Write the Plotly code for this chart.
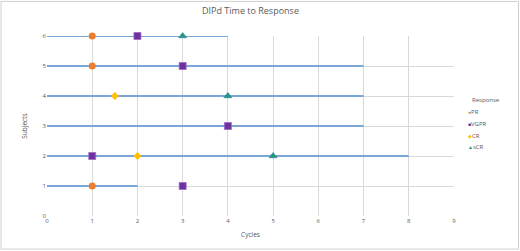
import plotly.graph_objects as go

subjects = [1, 2, 3, 4, 5, 6]
line_end = [2, 8, 7, 7, 7, 4]

pr_x = [1, 1, 1]
pr_y = [6, 5, 1]
vgpr_x = [2, 3, 4, 1, 3]
vgpr_y = [6, 5, 3, 2, 1]
cr_x = [1.5, 2]
cr_y = [4, 2]
scr_x = [3, 4, 5]
scr_y = [6, 4, 2]

x_ticks = list(range(0, 10))
y_ticks = list(range(0, 7))

series_names = ["PR", "VGPR", "CR", "sCR"]
series_colors = ["#ED7D31", "#7030A0", "#FFC000", "#1E9C72"]
series_glyphs = ["●", "■", "◆", "▲"]

L, R, T, B = 47, 454, 35.7, 216.3
W, H = 520, 251

fig = go.Figure()
for s, e in zip(subjects, line_end):
    fig.add_trace(go.Scatter(x=[0, e], y=[s, s], mode="lines",
                             line=dict(color="#7BA7D8", width=2.2),
                             showlegend=False, hoverinfo="skip"))

fig.add_trace(go.Scatter(x=pr_x, y=pr_y, mode="markers", name="PR", showlegend=False,
                         cliponaxis=False,
                         marker=dict(symbol="circle", size=7, color=series_colors[0])))
fig.add_trace(go.Scatter(x=vgpr_x, y=vgpr_y, mode="markers", name="VGPR", showlegend=False,
                         cliponaxis=False,
                         marker=dict(symbol="square", size=7, color=series_colors[1],
                                     line=dict(color="#9B6BC4", width=0.8))))
fig.add_trace(go.Scatter(x=cr_x, y=cr_y, mode="markers", name="CR", showlegend=False,
                         cliponaxis=False,
                         marker=dict(symbol="diamond", size=6, color=series_colors[2])))
fig.add_trace(go.Scatter(x=scr_x, y=scr_y, mode="markers", name="sCR", showlegend=False,
                         cliponaxis=False,
                         marker=dict(symbol="triangle-up", size=7, color=series_colors[3],
                                     line=dict(color="#2E75B6", width=0.6))))

def px2x(p):
    return (p - L) / (R - L)

def py2y(p):
    return (B - p) / (B - T)

fig.add_shape(type="rect", xref="paper", yref="paper",
              x0=px2x(1), x1=px2x(518.5), y0=py2y(249.5), y1=py2y(1),
              line=dict(color="#D0D0D0", width=1), fillcolor="rgba(0,0,0,0)", layer="below")

# manual legend
fig.add_annotation(text="Response", xref="paper", yref="paper",
                   x=px2x(470), y=py2y(100), xanchor="left", yanchor="middle",
                   showarrow=False, font=dict(size=6, color="#595959"))
for i, (n, c, g) in enumerate(zip(series_names, series_colors, series_glyphs)):
    fig.add_annotation(
        text=f"<span style='color:{c};font-size:5px'>{g}</span>{n}",
        xref="paper", yref="paper",
        x=px2x(466), y=py2y(112 + 11.8 * i), xanchor="left", yanchor="middle",
        showarrow=False, font=dict(size=6, color="#595959"))

fig.update_layout(
    width=W, height=H,
    margin=dict(l=L, r=W - R, t=T, b=H - B, pad=0, autoexpand=False),
    paper_bgcolor="white", plot_bgcolor="white",
    font=dict(family="Open Sans, Liberation Sans, sans-serif", color="#595959", size=6),
    title=dict(text="DIPd Time to Response", x=0.5, xref="paper", xanchor="center",
               y=1 - 11 / H, yanchor="middle",
               font=dict(size=9, color="#595959")),
    xaxis=dict(range=[0, 9], tickvals=x_ticks, showgrid=True, gridcolor="#D9D9D9",
               gridwidth=1, zeroline=False, showline=False, ticks="", automargin=False,
               tickfont=dict(size=6, color="#595959"),
               title=dict(text="Cycles", font=dict(size=6.5, color="#595959"), standoff=8)),
    yaxis=dict(range=[0, 6], tickvals=y_ticks, showgrid=True, gridcolor="#D9D9D9",
               gridwidth=1, zeroline=False, showline=False, ticks="", automargin=False,
               tickfont=dict(size=6, color="#595959"),
               title=dict(text="Subjects", font=dict(size=6.5, color="#595959"), standoff=14)),
    showlegend=False,
)

fig.write_html("out.html", config={"displayModeBar": False},
               post_script="document.body.style.margin='0';document.body.style.overflow='hidden';")
